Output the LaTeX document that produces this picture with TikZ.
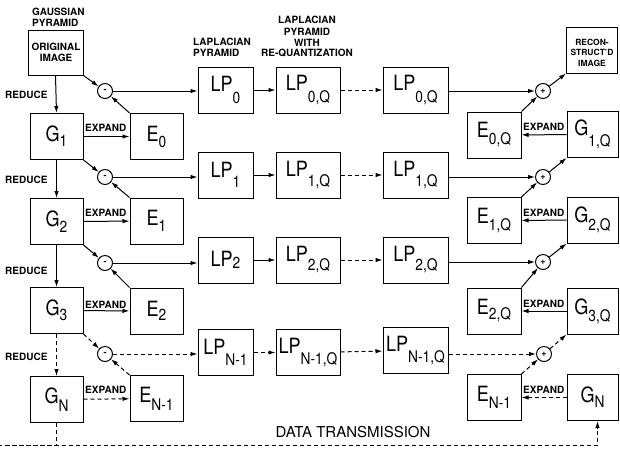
\documentclass[tikz,border=0pt]{standalone}
\usepackage{fontspec}
\setmainfont{TeX Gyre Heros}
\newfontfamily\boxfont[FakeStretch=0.86]{TeX Gyre Heros}
\usetikzlibrary{arrows.meta}
\newcommand{\lb}[3]{{\boxfont\fontsize{21}{21}\selectfont #1\raisebox{-#3pt}{\fontsize{16}{16}\selectfont #2}}}
\tikzset{
  box/.style={draw,line width=1pt,inner sep=0pt,minimum height=46pt},
  gbox/.style={box,minimum width=53pt},
  lpa/.style={box,minimum width=55pt},
  lpb/.style={box,minimum width=64pt},
  lpc/.style={box,minimum width=65pt},
  erbox/.style={box,minimum width=54pt},
  grbox/.style={box,minimum width=51pt},
  op/.style={draw,circle,line width=1pt,minimum size=15pt,inner sep=0pt,font=\bfseries\fontsize{9}{9}\selectfont},
  arr/.style={-{Latex[length=7pt,width=4.5pt]},line width=1pt},
  dsh/.style={dash pattern=on 4pt off 3pt},
  small/.style={font=\bfseries\fontsize{10}{11}\selectfont,inner sep=0pt},
  tiny/.style={font=\bfseries\fontsize{8.5}{9}\selectfont,inner sep=0pt},
  big/.style={font=\fontsize{15}{16}\selectfont,inner sep=0pt}
}
\begin{document}
\begin{tikzpicture}[x=1pt,y=-1pt]
\useasboundingbox[fill=white] (0,0) rectangle (620,448);
% left column
\node[box,minimum width=55pt,minimum height=45pt] (orig) at (55.5,52.5) {};
\node[gbox] (G1) at (56.5,136.5) {\lb{G}{1}{5}};
\node[gbox] (G2) at (56.5,221.5) {\lb{G}{2}{6}};
\node[gbox] (G3) at (56.5,310.5) {\lb{G}{3}{5}};
\node[gbox] (GN) at (56.5,399.5) {\lb{G}{N}{8}};
\node[gbox] (E0) at (156.5,136.5) {\lb{E}{0}{6}};
\node[gbox] (E1) at (156.5,221) {\lb{E}{1}{6}};
\node[gbox] (E2) at (156.5,311) {\lb{E}{2}{4}};
\node[gbox] (EN) at (156.5,398.5) {\lb{E}{N-1}{8}};
% minus circles
\node[op] (m0) at (105,91) {-};
\node[op] (m1) at (105,177) {-};
\node[op] (m2) at (105,263) {-};
\node[op] (m3) at (105,354) {-};
% LP columns
\node[lpa] (a0) at (225.5,90) {\lb{LP}{0}{12}};
\node[lpa] (a1) at (225.5,175) {\lb{LP}{1}{10}};
\node[lpa] (a2) at (225.5,260) {\lb{LP}{2}{2}};
\node[lpa] (a3) at (225.5,352.5) {\lb{LP}{N-1}{11}};
\node[lpb] (b0) at (308,90) {\lb{LP}{0,Q}{12}};
\node[lpb] (b1) at (308,175) {\lb{LP}{1,Q}{10}};
\node[lpb] (b2) at (308,260) {\lb{LP}{2,Q}{9}};
\node[lpb] (b3) at (308,352.5) {\lb{LP}{N-1,Q}{11}};
\node[lpc] (c0) at (415.5,90) {\lb{LP}{0,Q}{12}};
\node[lpc] (c1) at (415.5,175) {\lb{LP}{1,Q}{10}};
\node[lpc] (c2) at (415.5,260) {\lb{LP}{2,Q}{9}};
\node[lpc] (c3) at (415.5,350.5) {\lb{LP}{N-1,Q}{11}};
% plus circles
\node[op] (p0) at (543,91) {+};
\node[op] (p1) at (543,177) {+};
\node[op] (p2) at (543,262) {+};
\node[op] (p3) at (544,354) {+};
% right columns
\node[erbox] (E0Q) at (494,135) {\lb{E}{0,Q}{7}};
\node[erbox] (E1Q) at (494,220.5) {\lb{E}{1,Q}{7}};
\node[erbox] (E2Q) at (494,311) {\lb{E}{2,Q}{5}};
\node[erbox] (ENR) at (494,397.5) {\lb{E}{N-1}{7}};
\node[grbox] (recon) at (592,50) {};
\node[grbox] (G1Q) at (592.5,134.5) {\lb{G}{1,Q}{11}};
\node[grbox] (G2Q) at (592.5,220) {\lb{G}{2,Q}{8}};
\node[grbox] (G3Q) at (592.5,311) {\lb{G}{3,Q}{7}};
\node[grbox] (GNR) at (592.5,397.5) {\lb{G}{N}{5}};
% texts
\node[small,anchor=base west] (t1) at (32,15.5) {GAUSSIAN};
\node[small,anchor=base west] (t2) at (32,26.5) {PYRAMID};
\node[small,anchor=base] (t3) at (56,50.5) {ORIGINAL};
\node[small,anchor=base] (t4) at (56,61.5) {IMAGE};
\node[small,anchor=base west] (t5) at (193,45.5) {LAPLACIAN};
\node[small,anchor=base west] (t6) at (193,56.5) {PYRAMID};
\node[small,anchor=base] (t7) at (307,23.5) {LAPLACIAN};
\node[small,anchor=base] (t8) at (307,35) {PYRAMID};
\node[small,anchor=base] (t9) at (307,46) {WITH};
\node[small,anchor=base] (t10) at (307,56.5) {RE-QUANTIZATION};
\node[tiny,anchor=base] (t11) at (592,45) {RECON-};
\node[tiny,anchor=base] (t12) at (592,55.5) {STRUCT'D};
\node[tiny,anchor=base] (t13) at (592,66) {IMAGE};
\node[small,anchor=base west] (r0) at (5,98.5) {REDUCE};
\node[small,anchor=base west] (r1) at (5,183.5) {REDUCE};
\node[small,anchor=base west] (r2) at (5,274.5) {REDUCE};
\node[small,anchor=base west] (r3) at (5,360.5) {REDUCE};
\node[small,anchor=base west] (x0) at (85,131.5) {EXPAND};
\node[small,anchor=base west] (x1) at (85,216.5) {EXPAND};
\node[small,anchor=base west] (x2) at (85,308) {EXPAND};
\node[small,anchor=base west] (x3) at (85,393.5) {EXPAND};
\node[small,anchor=base west] (y0) at (523,130.5) {EXPAND};
\node[small,anchor=base west] (y1) at (523,216) {EXPAND};
\node[small,anchor=base west] (y2) at (523,307) {EXPAND};
\node[small,anchor=base west] (y3) at (523,393.5) {EXPAND};
\node[big,anchor=base] (dt) at (353,437) {DATA TRANSMISSION};
\coordinate (dl) at (0,445);
% reduce arrows
\draw[arr] (orig.south) -- (G1.north);
\draw[arr] (G1) -- (G2);
\draw[arr] (G2) -- (G3);
\draw[arr,dsh] (G3) -- (GN);
% expand arrows left
\draw[arr] (G1) -- (E0);
\draw[arr] (G2) -- (E1);
\draw[arr] (G3) -- (E2);
\draw[arr,dsh] (GN) -- (EN);
% diagonals to minus
\draw[arr] (orig.south east) -- (m0);
\draw[arr] (E0.north west) -- (m0);
\draw[arr] (G1.south east) -- (m1);
\draw[arr] (E1.north west) -- (m1);
\draw[arr] (G2.south east) -- (m2);
\draw[arr] (E2.north west) -- (m2);
\draw[arr,dsh] (G3.south east) -- (m3);
\draw[arr,dsh] (EN.north west) -- (m3);
% rows
\draw[arr] (m0) -- (m0 -| a0.west);
\draw[arr] (m1) -- (m1 -| a1.west);
\draw[arr] (m2) -- (m2 -| a2.west);
\draw[arr,dsh] (m3) -- (m3 -| a3.west);
\draw[arr] (a0) -- (b0);
\draw[arr] (a1) -- (b1);
\draw[arr] (a2) -- (b2);
\draw[arr,dsh] (a3) -- (b3);
\draw[arr,dsh] (b0) -- (c0);
\draw[arr,dsh] (b1) -- (c1);
\draw[arr,dsh] (b2) -- (c2);
\draw[arr,dsh] (b3) -- (c3);
\draw[arr] (c0.east |- p0) -- (p0);
\draw[arr] (c1.east |- p1) -- (p1);
\draw[arr] (c2.east |- p2) -- (p2);
\draw[arr,dsh] (c3.east |- p3) -- (p3);
% right diagonals
\draw[arr] (E0Q.north east) -- (p0);
\draw[arr] (p0) -- (recon.south west);
\draw[arr] (E1Q.north east) -- (p1);
\draw[arr] (p1) -- (G1Q.south west);
\draw[arr] (E2Q.north east) -- (p2);
\draw[arr] (p2) -- (G2Q.south west);
\draw[arr,dsh] (ENR.north east) -- (p3);
\draw[arr,dsh] (p3) -- (G3Q.south west);
% right expand
\draw[arr] (G1Q) -- (E0Q);
\draw[arr] (G2Q) -- (E1Q);
\draw[arr] (G3Q) -- (E2Q);
\draw[arr,dsh] (GNR) -- (ENR);
% data transmission
\draw[arr,dsh] (GN.south) |- (dl) -| ([xshift=5pt]GNR.south);
\end{tikzpicture}
\end{document}
